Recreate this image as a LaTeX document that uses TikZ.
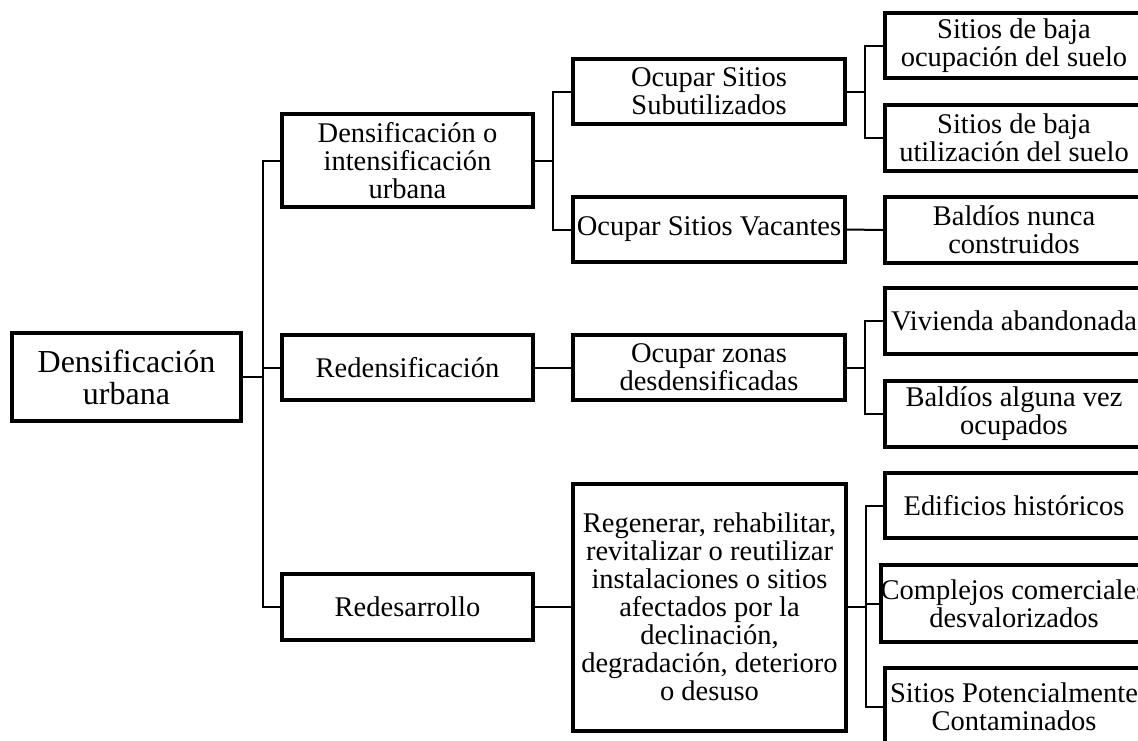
\documentclass[tikz,border=0pt]{standalone}
\usepackage{fontspec}
\setmainfont{Liberation Serif}
\usepackage{tikz}

\begin{document}
\begin{tikzpicture}[x=1pt, y=-1pt,
  box/.style={draw, line width=4pt, align=center, inner sep=0pt,
    font=\fontsize{28.5}{28}\selectfont},
  link/.style={line width=2pt}]
\useasboundingbox (0,0) rectangle (1138,740);
\clip (0,0) rectangle (1138,740);
% root
\node[box, minimum width=229, minimum height=88, font=\fontsize{32}{32}\selectfont] (root) at (126.5,377) {Densificación\\urbana};
% first level
\node[box, minimum width=251, minimum height=93] (dens) at (407.5,160.5) {Densificación o\\intensificación\\urbana};
\node[box, minimum width=251, minimum height=65] (reden) at (407.5,367.5) {Redensificación};
\node[box, minimum width=251, minimum height=66] (redes) at (407.5,607) {Redesarrollo};
% second level
\node[box, minimum width=272, minimum height=65] (subut) at (709,91.5) {Ocupar Sitios\\Subutilizados};
\node[box, minimum width=272, minimum height=65] (vacan) at (709,229.5) {Ocupar Sitios Vacantes};
\node[box, minimum width=272, minimum height=65] (zonas) at (709,367.5) {Ocupar zonas\\desdensificadas};
\node[box, minimum width=273, minimum height=247] (regen) at (709.5,607) {Regenerar, rehabilitar,\\revitalizar o reutilizar\\instalaciones o sitios\\afectados por la\\declinación,\\degradación, deterioro\\o desuso};
% third level
\node[box, minimum width=258, minimum height=65] (bajaoc) at (1014,45.5) {Sitios de baja\\ocupación del suelo};
\node[box, minimum width=258, minimum height=66] (bajaut) at (1014,138) {Sitios de baja\\utilización del suelo};
\node[box, minimum width=258, minimum height=66] (nunca) at (1014,230) {Baldíos nunca\\construidos};
\node[box, minimum width=258, minimum height=66] (vivienda) at (1014,321) {Vivienda abandonada};
\node[box, minimum width=258, minimum height=66] (alguna) at (1014,414) {Baldíos alguna vez\\ocupados};
\node[box, minimum width=258, minimum height=65] (histo) at (1014,505.5) {Edificios históricos};
\node[box, minimum width=258, minimum height=77] (comer) at (1014,603.5) {Complejos comerciales\\desvalorizados};
\node[box, minimum width=258, minimum height=77] (contam) at (1014,706.5) {Sitios Potencialmente\\Contaminados};
% connectors
\draw[link] (root.east) -- ++(19.5,0) |- (dens.west);
\draw[link] (root.east) -- ++(19.5,0) |- (reden.west);
\draw[link] (root.east) -- ++(19.5,0) |- (redes.west);
\draw[link] (dens.east) -- ++(18,0) |- (subut.west);
\draw[link] (dens.east) -- ++(18,0) |- (vacan.west);
\draw[link] (reden.east) -- (zonas.west);
\draw[link] (redes.east) -- (regen.west);
\draw[link] (subut.east) -- ++(18,0) |- (bajaoc.west);
\draw[link] (subut.east) -- ++(18,0) |- (bajaut.west);
\draw[link] (vacan.east) -- (nunca.west);
\draw[link] (zonas.east) -- ++(18,0) |- (vivienda.west);
\draw[link] (zonas.east) -- ++(18,0) |- (alguna.west);
\draw[link] (regen.east) -- ++(18,0) |- (histo.west);
\draw[link] (regen.east) -- ++(18,0) |- (comer.west);
\draw[link] (regen.east) -- ++(18,0) |- (contam.west);
\end{tikzpicture}
\end{document}
